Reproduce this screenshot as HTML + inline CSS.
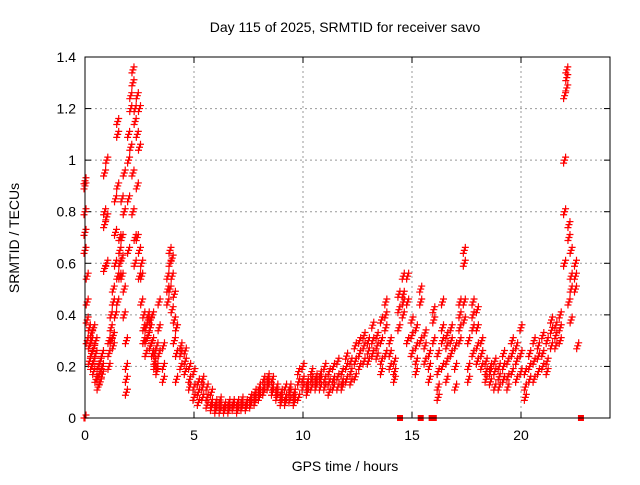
<!DOCTYPE html>
<html><head><meta charset="utf-8"><style>
body{margin:0;background:#fff}
svg{font-family:"Liberation Sans",sans-serif;font-size:14px}
</style></head><body>
<svg id="c" width="640" height="480">
<text x="345" y="32" text-anchor="middle">Day 115 of 2025, SRMTID for receiver savo</text>
<text x="345" y="471" text-anchor="middle">GPS time / hours</text>
<text transform="translate(19,238) rotate(-90)" text-anchor="middle">SRMTID / TECUs</text>
<g id="grid"></g><g id="marks"></g>
<rect x="85" y="57" width="525" height="361" fill="none" stroke="#000" stroke-width="1"/>
</svg>
<script>
const xTicks=[0,5,10,15,20];
const yTicks=[0,0.2,0.4,0.6,0.8,1,1.2,1.4];
const yTickLabels=["0","0.2","0.4","0.6","0.8","1","1.2","1.4"];
const groupTimes=[0,0.1,0.2,0.3,0.4,0.5,0.6,0.7,0.8,0.9,1.0,1.1,1.2,1.3,1.4,1.5,1.6,1.7,1.8,1.9,2.0,2.1,2.2,2.3,2.4,2.5,2.6,2.7,2.8,2.9,3.0,3.1,3.2,3.3,3.4,3.6,3.8,3.9,4.0,4.1,4.2,4.4,4.6,4.8,5.0,5.2,5.4,5.6,5.8,6.0,6.2,6.4,6.6,6.8,7.0,7.2,7.4,7.6,7.8,8.0,8.2,8.4,8.6,8.8,9.0,9.2,9.4,9.6,9.8,10.0,10.2,10.4,10.6,10.8,11.0,11.2,11.4,11.6,11.8,12.0,12.2,12.4,12.6,12.8,13.0,13.2,13.4,13.6,13.8,14.0,14.2,14.4,14.6,14.8,15.0,15.2,15.4,15.6,15.8,16.0,16.2,16.4,16.6,16.8,17.0,17.2,17.4,17.6,17.8,18.0,18.2,18.4,18.6,18.8,19.0,19.2,19.4,19.6,19.8,20.0,20.2,20.4,20.6,20.8,21.0,21.2,21.4,21.6,21.8,22.0,22.1,22.2,22.3,22.5,22.6];
const groupValues=[[0.92,0.90,0.80,0.72,0.65,0],[0.55,0.45,0.38,0.30],[0.35,0.28,0.22],[0.30,0.20,0.25,0.33],[0.18,0.27,0.35,0.22],[0.30,0.25,0.15],[0.12,0.20,0.16],[0.18,0.14,0.22],[0.20,0.25,0.17],[0.75,0.80,0.95,0.58],[1.00,0.78,0.60],[0.25,0.30,0.20],[0.35,0.40,0.30],[0.45,0.50,0.32,0.28],[0.85,0.72,0.60,0.40],[1.15,1.10,0.90,0.55,0.45],[0.70,0.65,0.60,0.55],[0.62,0.55,0.70,0.85],[0.80,0.95,0.50,0.40],[0.20,0.15,0.10,0.30],[1.00,1.10,0.85,0.65],[1.25,1.20,1.05],[1.35,1.30,0.95,0.80],[1.20,1.15,0.70,0.60],[1.25,1.10,0.90,0.70],[1.20,1.05,0.65,0.55],[0.60,0.55,0.45],[0.30,0.35,0.40],[0.35,0.30,0.25],[0.38,0.40,0.32],[0.38,0.35,0.28],[0.40,0.30,0.25],[0.22,0.25,0.20],[0.28,0.20,0.18],[0.45,0.35,0.25],[0.28,0.20,0.15],[0.55,0.50,0.45],[0.65,0.60,0.50],[0.62,0.55,0.42],[0.48,0.38,0.30],[0.35,0.25,0.15],[0.25,0.20,0.28],[0.22,0.26,0.18],[0.15,0.12,0.20],[0.18,0.12,0.08],[0.14,0.10,0.06],[0.15,0.12,0.08],[0.12,0.08,0.05],[0.10,0.06,0.04],[0.06,0.04,0.03],[0.07,0.05,0.03],[0.05,0.04,0.03],[0.06,0.04,0.03],[0.05,0.04,0.06],[0.06,0.04,0.03],[0.07,0.05,0.04],[0.06,0.04,0.05],[0.08,0.05,0.06],[0.10,0.08,0.06],[0.12,0.10,0.08],[0.15,0.12,0.10],[0.16,0.14,0.12],[0.15,0.12,0.10],[0.12,0.08,0.10],[0.10,0.08,0.06],[0.12,0.08,0.06],[0.10,0.07,0.12],[0.08,0.10,0.06],[0.18,0.14,0.08],[0.20,0.15,0.12],[0.14,0.12,0.10],[0.15,0.12,0.18],[0.14,0.16,0.12],[0.17,0.15,0.12],[0.20,0.15,0.12],[0.18,0.14,0.10],[0.20,0.15,0.12],[0.22,0.16,0.12],[0.18,0.14,0.12],[0.24,0.20,0.15],[0.22,0.18,0.14],[0.28,0.22,0.16],[0.30,0.25,0.20],[0.32,0.28,0.22],[0.30,0.26,0.22],[0.36,0.30,0.25],[0.32,0.28,0.24],[0.38,0.30,0.22,0.18],[0.45,0.40,0.35,0.25],[0.30,0.25,0.20],[0.22,0.18,0.15],[0.48,0.42,0.35],[0.48,0.45,0.40,0.55],[0.55,0.45,0.30],[0.38,0.32,0.25],[0.35,0.28,0.22,0.18],[0.50,0.45,0.30],[0.33,0.28,0.22],[0.25,0.20,0.15],[0.42,0.38,0.30],[0.12,0.08,0.18,0.25],[0.45,0.35,0.30,0.20],[0.32,0.28,0.22,0.15],[0.35,0.30,0.25],[0.28,0.20,0.12],[0.45,0.40,0.35,0.30],[0.65,0.60,0.45,0.38],[0.30,0.20,0.15],[0.45,0.40,0.35,0.25],[0.42,0.35,0.28,0.22],[0.30,0.25,0.20],[0.22,0.18,0.15],[0.20,0.18,0.14],[0.22,0.18,0.12],[0.20,0.16,0.12],[0.25,0.20,0.15],[0.22,0.16,0.12],[0.30,0.25,0.18],[0.28,0.22,0.15],[0.35,0.25,0.18],[0.12,0.08,0.18],[0.25,0.20,0.15],[0.30,0.22,0.15],[0.28,0.24,0.18],[0.32,0.25,0.20],[0.30,0.22,0.18],[0.38,0.34,0.28],[0.36,0.32,0.28],[0.40,0.35,0.30],[1.25,1.00,0.80,0.60],[1.35,1.32,1.28],[0.75,0.70,0.45],[0.65,0.55,0.50,0.38],[0.60,0.55,0.50],[0.28]];
const gapTimes=[14.45,15.4,15.9,16.0,22.75];
const NS="http://www.w3.org/2000/svg";
const X0=85,X1=610,Y0=418,Y1=57;
function sx(h){return X0+h*(521-85)/20;}
function sy(v){return Y0-v*(Y0-Y1)/1.4;}
const grid=document.getElementById('grid'),marks=document.getElementById('marks');
function mk(t,a,p){const e=document.createElementNS(NS,t);for(const k in a)e.setAttribute(k,a[k]);p.appendChild(e);return e;}
xTicks.forEach(t=>{
 const x=sx(t);
 if(t>0){const g=mk('line',{x1:x,y1:Y0,x2:x,y2:Y1,stroke:'#999','stroke-dasharray':'2,3'},grid);
 
 }
 mk('line',{x1:x,y1:Y0,x2:x,y2:Y0-6,stroke:'#000'},grid);
 mk('line',{x1:x,y1:Y1,x2:x,y2:Y1+6,stroke:'#000'},grid);
 const l=mk('text',{x:x,y:Y0+22,'text-anchor':'middle'},grid);l.textContent=t;
 
 
});
yTicks.forEach((t,i)=>{
 const y=sy(t);
 if(t>0&&t<1.4){const g=mk('line',{x1:X0,y1:y,x2:X1,y2:y,stroke:'#999','stroke-dasharray':'2,3'},grid);
 
 }
 mk('line',{x1:X0,y1:y,x2:X0+6,y2:y,stroke:'#000'},grid);
 mk('line',{x1:X1,y1:y,x2:X1-6,y2:y,stroke:'#000'},grid);
 const l=mk('text',{x:X0-9,y:y+5,'text-anchor':'end'},grid);l.textContent=yTickLabels[i];
 
 
});
// each sample drawn as a short vertical stack of crosses
const clusterDx=[-1,0,1];
const clusterDy=[3,0,-3];
groupTimes.forEach((t,i)=>{
 groupValues[i].forEach(v=>{
  const x=sx(t),y=sy(v);
  let d='';
  clusterDx.forEach((dx,k)=>{const cx=x+dx,cy=Math.min(Y0,y+clusterDy[k]);d+=`M${cx-3.5},${cy}h7M${cx},${cy-3.5}v7`;});
  const p=mk('path',{d:d,stroke:'#f00','stroke-width':1.2,fill:'none'},marks);
  
  
 });
});
gapTimes.forEach(t=>{
 const r=mk('rect',{x:sx(t)-3,y:Y0-3,width:6,height:6,fill:'#f00'},marks);
 
 
});
</script>
</body></html>
